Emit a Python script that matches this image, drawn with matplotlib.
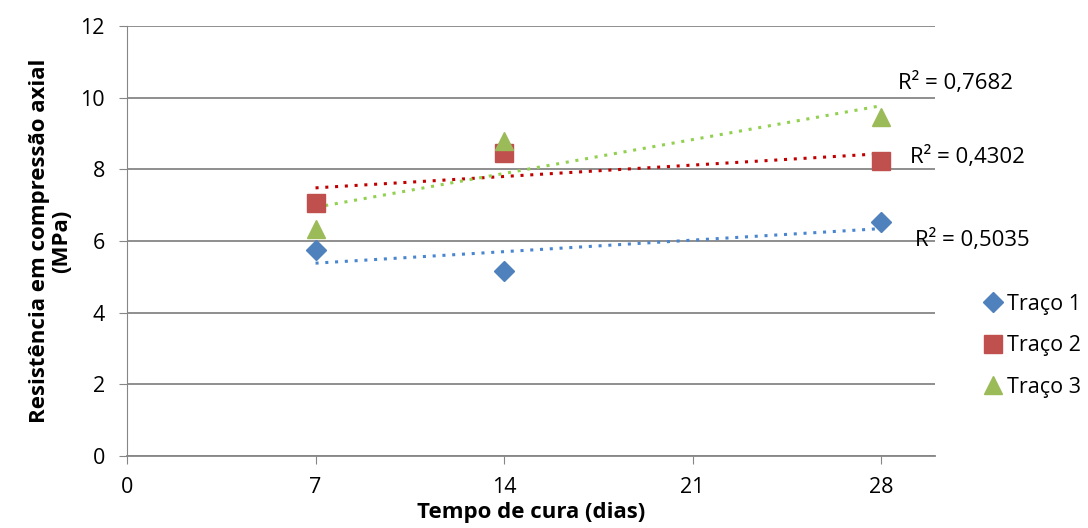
import numpy as np
import matplotlib
matplotlib.use("Agg")
import matplotlib.pyplot as plt

plt.rcParams['font.family'] = ['Open Sans', 'DejaVu Sans']

# curing time (days)
dias = [7, 14, 28]
# compressive strength (MPa)
traco1 = [5.75, 5.15, 6.53]
traco2 = [7.05, 8.45, 8.22]
traco3 = [6.33, 8.80, 9.47]
nomes = ['Traço 1', 'Traço 2', 'Traço 3']
r2_labels = ['R² = 0,5035', 'R² = 0,4302', 'R² = 0,7682']

marker_colors = ['#4F81BD', '#C0504D', '#9BBB59']
trend_colors = ['#4A86D0', '#C00000', '#92D050']
markers = ['D', 's', '^']
msizes = [10, 13, 13]
label_pos = [(31.4, 6.03), (31.2, 8.35), (30.75, 10.41)]

fig = plt.figure(figsize=(10.88, 5.28), dpi=100)
ax = fig.add_axes([127/1088, 1-456/528, (935-127)/1088, (456-26)/528])

x = np.array(dias, dtype=float)
for ys, nome, mc, tc, mk, ms, lp, r2 in zip([traco1, traco2, traco3], nomes, marker_colors,
                                             trend_colors, markers, msizes, label_pos, r2_labels):
    ys = np.array(ys)
    ax.plot(x, ys, linestyle='none', marker=mk, markersize=ms, color=mc,
            markeredgecolor=mc, label=nome, zorder=3)
    # linear trendline, as in the spreadsheet
    b, a = np.polyfit(x, ys, 1)
    xx = np.array([x.min(), x.max()])
    ax.plot(xx, a + b * xx, linestyle=(0, (1, 2.2)), linewidth=2.2, color=tc, zorder=2)
    ax.text(lp[0], lp[1], r2, fontsize=16, ha='center', va='center', clip_on=False, zorder=4)

ax.set_xlim(0, 30)
ax.set_ylim(0, 12)
ax.set_xticks([0, 7, 14, 21, 28])
ax.set_yticks(range(0, 13, 2))
ax.tick_params(axis='both', labelsize=15.5, color='#868686', length=6)
ax.tick_params(axis='x', direction='out', pad=9)
ax.tick_params(axis='y', direction='out', pad=10)
ax.yaxis.grid(True, color='#868686', linewidth=1.3)
ax.set_axisbelow(True)
for s in ['top', 'right']:
    ax.spines[s].set_visible(False)
ax.spines['left'].set_color('#868686')
ax.spines['bottom'].set_color('#868686')
ax.spines['bottom'].set_linewidth(1.3)

ax.set_xlabel('Tempo de cura (dias)', fontsize=16, fontweight='bold', labelpad=3)
ax.set_ylabel('Resistência em compressão axial\n(MPa)', fontsize=16, fontweight='bold',
              labelpad=6, linespacing=1.05)

ax.legend(loc='center left', bbox_to_anchor=(1.045, 0.256), frameon=False, fontsize=15.5,
          handletextpad=0.05, handlelength=1.2, labelspacing=0.95, borderaxespad=0)

fig.savefig('out.png', dpi=100)
